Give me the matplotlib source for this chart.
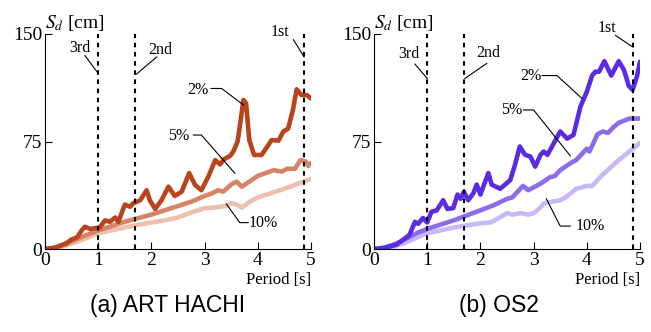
import matplotlib
matplotlib.use('Agg')
import matplotlib.pyplot as plt

plt.rcParams['font.family'] = 'Liberation Serif'
plt.rcParams['mathtext.fontset'] = 'stix'

# ---- data: Sd [cm] vs period [s] ----
# (a) ART HACHI
a_t2 = [0, 0.1, 0.2, 0.3, 0.4, 0.5, 0.6, 0.69, 0.75, 0.85, 1.03, 1.13, 1.22, 1.32, 1.38,
        1.5, 1.6, 1.66, 1.79, 1.91, 1.97, 2.07, 2.19, 2.32, 2.44, 2.57, 2.71, 2.82, 2.94,
        3.07, 3.2, 3.29, 3.36, 3.48, 3.54, 3.62, 3.66, 3.73, 3.78, 3.84, 3.93, 4.07, 4.17,
        4.26, 4.39, 4.48, 4.57, 4.66, 4.73, 4.82, 4.92, 5.0]
a_sd2 = [0, 0.3, 1, 2.5, 4, 6.7, 8, 13, 15.5, 14, 15, 20, 19, 22, 19,
         31, 29.5, 32, 34, 41, 34, 28, 34, 43.5, 37, 40, 53, 44.7, 41,
         50.5, 62, 59, 62.5, 65, 68, 75, 85, 104, 101.6, 76, 65.6, 65.6, 71,
         76, 75.6, 82, 84, 97, 111.4, 107.4, 107.4, 105]
a_t5 = [0, 0.2, 0.4, 0.6, 0.8, 1.0, 1.25, 1.5, 1.75, 2.0, 2.25, 2.5, 2.75, 3.0, 3.15,
        3.25, 3.35, 3.5, 3.6, 3.7, 3.8, 4.0, 4.15, 4.3, 4.45, 4.55, 4.7, 4.8, 4.9, 4.95, 5.0]
a_sd5 = [0, 1, 3.5, 7, 10, 13, 16, 19, 21.5, 24, 27, 30, 33, 37, 39,
         41, 40, 45, 47, 43.5, 46, 51, 53, 55, 54, 56, 56, 62, 61, 58, 60]
a_t10 = [0, 0.2, 0.4, 0.6, 0.8, 1.0, 1.25, 1.5, 1.75, 2.0, 2.25, 2.5, 2.75, 3.0, 3.2,
         3.4, 3.5, 3.6, 3.7, 3.85, 4.0, 4.25, 4.5, 4.75, 5.0]
a_sd10 = [0, 0.7, 2.5, 5, 8, 11, 13, 15, 17, 18.5, 20, 22, 25.5, 28.5, 29,
          30, 32, 31, 29, 33, 36, 39, 42, 45.5, 49]

# (b) OS2
b_t2 = [0, 0.1, 0.2, 0.3, 0.42, 0.55, 0.67, 0.77, 0.83, 0.92, 1.0, 1.08, 1.18, 1.3, 1.38,
        1.49, 1.57, 1.63, 1.69, 1.77, 1.87, 1.93, 2.0, 2.09, 2.15, 2.21, 2.37, 2.56, 2.65,
        2.74, 2.84, 2.94, 3.03, 3.13, 3.19, 3.26, 3.38, 3.5, 3.63, 3.75, 3.88, 4.0, 4.1,
        4.16, 4.23, 4.33, 4.46, 4.6, 4.7, 4.79, 4.86, 4.94, 5.0]
b_sd2 = [0, 0.3, 0.8, 1.8, 3, 6.5, 10, 19, 17.6, 21.6, 18.5, 26, 27, 34, 28,
         28.5, 38, 35, 40, 34, 39, 45, 38, 47, 53, 45, 42, 48, 58.7,
         71.5, 65.7, 64.5, 57.5, 65.7, 68, 65.7, 73.8, 82, 77, 79.6, 99.3, 109.7, 121,
         123.7, 123.7, 131, 121, 131, 124.8, 113.7, 111, 120, 130.6]
b_t5 = [0, 0.2, 0.4, 0.6, 0.8, 1.0, 1.25, 1.5, 1.75, 2.0, 2.25, 2.5, 2.6, 2.7, 2.8,
        2.9, 3.0, 3.15, 3.3, 3.4, 3.5, 3.7, 3.8, 3.9, 4.0, 4.05, 4.1, 4.2, 4.3, 4.4, 4.5,
        4.6, 4.8, 5.0]
b_sd5 = [0, 1, 3.5, 7, 11, 14, 17, 20, 23.5, 27, 30.5, 35, 36, 40, 44,
         41, 43, 46, 50, 51, 55, 60, 62, 66, 70, 68, 72, 80, 82, 81, 85,
         88, 91, 91]
b_t10 = [0, 0.2, 0.4, 0.6, 0.8, 1.0, 1.25, 1.5, 1.75, 2.0, 2.2, 2.5, 2.6, 2.75, 2.9,
         3.0, 3.1, 3.2, 3.35, 3.5, 3.6, 3.8, 4.0, 4.1, 4.3, 4.6, 4.8, 5.0]
b_sd10 = [0, 0.6, 2, 4.5, 8, 11, 13, 15, 16.5, 18, 18.5, 25, 24, 25, 24,
          25, 28, 32, 33, 34, 36, 42, 44, 44, 52, 62, 68, 74]

mode_periods = [1.0, 1.7, 4.87]
mode_labels = ['3rd', '2nd', '1st']
damping = ['2%', '5%', '10%']

colors_a = ['#b8441b', '#d68468', '#edbfae']
colors_b = ['#5a2be2', '#8d6ceb', '#c8b8f6']

# label text positions and leader lines (data coords): text_xy, line points
mode_ann_a = [((0.65, 140), [(0.75, 135), (1.0, 122.5)]),
              ((2.16, 139), [(2.1, 134), (1.72, 122)]),
              ((4.42, 151.5), [(4.67, 146), (4.87, 134)])]
mode_ann_b = [((0.66, 136), [(0.77, 129), (1.0, 119)]),
              ((2.15, 137), [(2.12, 129.5), (1.71, 119)]),
              ((4.38, 154), [(4.54, 149), (4.86, 141)])]
damp_ann_a = [((2.88, 111), [(3.12, 112), (3.32, 112), (3.73, 100.5)]),
              ((2.52, 78.5), [(2.79, 79.5), (2.94, 79.5), (3.57, 52.8)]),
              ((4.1, 18), [(3.82, 18.4), (3.66, 18.4), (3.41, 31.4)])]
damp_ann_b = [((2.95, 121), [(3.16, 121), (3.44, 121), (3.91, 105)]),
              ((2.59, 97), [(2.81, 97), (3.0, 97), (3.69, 65)]),
              ((4.07, 15.8), [(3.69, 16), (3.5, 16), (3.24, 35)])]

W, H = 651, 332
fig = plt.figure(figsize=(W / 100, H / 100), dpi=100)


def panel(rect, curves, colors, mode_ann, damp_ann, title, title_x):
    ax = fig.add_axes(rect)
    # lightest first so the 2% curve sits on top
    for (t, sd), c in reversed(list(zip(curves, colors))):
        ax.plot(t, sd, color=c, lw=3.3, solid_capstyle='round', solid_joinstyle='round')
    for p in mode_periods:
        ax.plot([p, p], [0, 150], color='black', lw=1.5, ls=(0, (2.2, 2.2)), clip_on=False)
    for lab, (txy, pts) in zip(mode_labels, mode_ann):
        ax.text(txy[0], txy[1], lab, ha='center', va='center', fontsize=11.5, clip_on=False)
        xs, ys = zip(*pts)
        ax.plot(xs, ys, color='black', lw=0.8, clip_on=False)
    for lab, (txy, pts) in zip(damping, damp_ann):
        ax.text(txy[0], txy[1], lab, ha='center', va='center', fontsize=11.5, clip_on=False)
        xs, ys = zip(*pts)
        ax.plot(xs, ys, color='black', lw=0.8, clip_on=False)

    ax.set_xlim(0, 5)
    ax.set_ylim(0, 150)
    ax.set_xticks([0, 1, 2, 3, 4, 5])
    ax.set_yticks([0, 75, 150])
    ax.tick_params(direction='in', length=5, width=0.8, labelsize=14, pad=2)
    for s in ['top', 'right']:
        ax.spines[s].set_visible(False)
    for s in ['left', 'bottom']:
        ax.spines[s].set_linewidth(0.8)
    ax.set_xlabel('Period [s]', fontsize=12, loc='right', labelpad=2)
    ax.text(0.0, 151, r'$S_d$ [cm]', fontsize=14, ha='left', va='bottom', clip_on=False)
    fig.text(title_x, 0.08, title, fontsize=16.5, family='Liberation Sans',
             ha='center', va='center')
    return ax


panel([45 / W, 1 - 249 / H, 266 / W, 215 / H],
      [(a_t2, a_sd2), (a_t5, a_sd5), (a_t10, a_sd10)], colors_a,
      mode_ann_a, damp_ann_a, '(a) ART HACHI', 168 / W)
panel([374 / W, 1 - 249 / H, 266 / W, 215 / H],
      [(b_t2, b_sd2), (b_t5, b_sd5), (b_t10, b_sd10)], colors_b,
      mode_ann_b, damp_ann_b, '(b) OS2', 499 / W)

fig.savefig('out.png', dpi=100)
